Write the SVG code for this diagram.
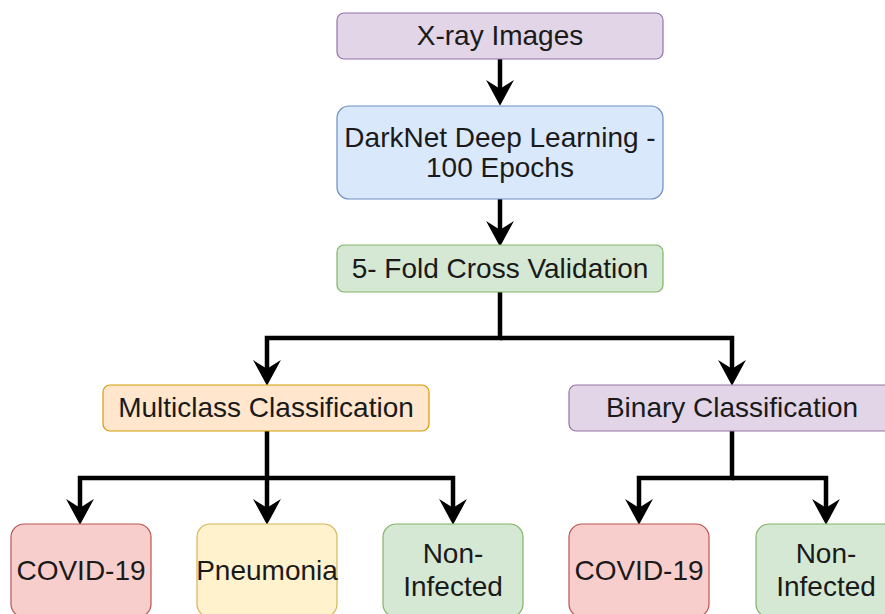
<svg xmlns="http://www.w3.org/2000/svg" width="885" height="614" viewBox="0 0 885 614">
<style>
text{font-family:"Liberation Sans",Arial,Helvetica,sans-serif;font-size:28px;fill:#1a1a1a;text-anchor:middle}
.c{fill:none;stroke:#000;stroke-width:4.5;stroke-linejoin:miter}
.purple{fill:#e1d5e7;stroke:#9673a6;stroke-width:1.2}
.blue{fill:#dae8fc;stroke:#6c8ebf;stroke-width:1.2}
.green{fill:#d5e8d4;stroke:#82b366;stroke-width:1.2}
.orange{fill:#ffe6cc;stroke:#d79b00;stroke-width:1.2}
.red{fill:#f8cecc;stroke:#b85450;stroke-width:1.2}
.yellow{fill:#fff2cc;stroke:#d6b656;stroke-width:1.2}
</style>
<defs>
<marker id="arr" markerUnits="userSpaceOnUse" markerWidth="26" markerHeight="30" viewBox="0 0 24 28" refX="13" refY="14" orient="auto">
<path d="M0,1 L24,14 L0,27 L8,14 Z" fill="#000"/>
</marker>
</defs>
<g id="connectors">
<path class="c" d="M500,59 V94" marker-end="url(#arr)"/>
<path class="c" d="M500,199 V235" marker-end="url(#arr)"/>
<path class="c" d="M500,292 V338 H267 V374" marker-end="url(#arr)"/>
<path class="c" d="M500,338 H732 V374" marker-end="url(#arr)"/>
<path class="c" d="M267,431 V478 H80 V513" marker-end="url(#arr)"/>
<path class="c" d="M267,478 V513" marker-end="url(#arr)"/>
<path class="c" d="M267,478 H453 V513" marker-end="url(#arr)"/>
<path class="c" d="M732,431 V478 H639 V513" marker-end="url(#arr)"/>
<path class="c" d="M732,478 H826 V513" marker-end="url(#arr)"/>
</g>
<g id="xray"><rect class="purple" x="337" y="13" width="326" height="46" rx="7"/><text x="500" y="45">X-ray Images</text></g>
<g id="darknet"><rect class="blue" x="337" y="106" width="326" height="93" rx="12"/><text x="500" y="147">DarkNet Deep Learning -</text><text x="500" y="177">100 Epochs</text></g>
<g id="fold"><rect class="green" x="337" y="245" width="326" height="47" rx="7"/><text x="500" y="278">5- Fold Cross Validation</text></g>
<g id="multiclass"><rect class="orange" x="103" y="385" width="326" height="46" rx="7"/><text x="266" y="417">Multiclass Classification</text></g>
<g id="binary"><rect class="purple" x="569" y="385" width="326" height="46" rx="7"/><text x="732" y="417">Binary Classification</text></g>
<g id="covid1"><rect class="red" x="11" y="524" width="140" height="93" rx="13"/><text x="81" y="580">COVID-19</text></g>
<g id="pneumonia"><rect class="yellow" x="197" y="524" width="140" height="93" rx="13"/><text x="267" y="580">Pneumonia</text></g>
<g id="noninf1"><rect class="green" x="383" y="524" width="140" height="93" rx="13"/><text x="453" y="563">Non-</text><text x="453" y="596">Infected</text></g>
<g id="covid2"><rect class="red" x="569" y="524" width="140" height="93" rx="13"/><text x="639" y="580">COVID-19</text></g>
<g id="noninf2"><rect class="green" x="756" y="524" width="140" height="93" rx="13"/><text x="826" y="563">Non-</text><text x="826" y="596">Infected</text></g>
</svg>
